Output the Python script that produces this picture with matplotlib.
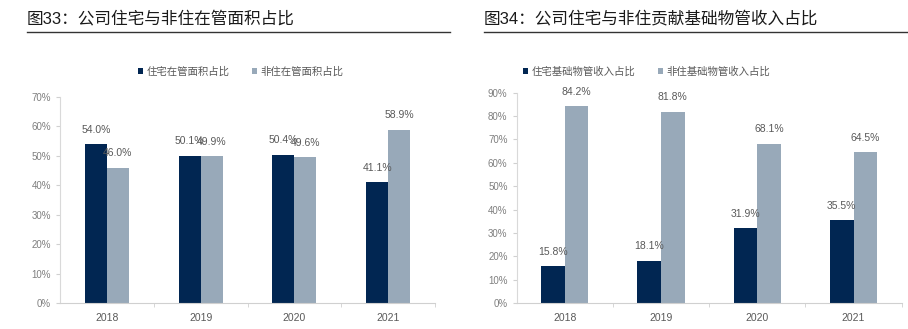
import numpy as np
import matplotlib
matplotlib.use("Agg")
import matplotlib.pyplot as plt
from matplotlib.lines import Line2D
from matplotlib.ticker import FixedLocator, PercentFormatter

plt.rcParams['font.family'] = ['Liberation Sans', 'Noto Sans CJK SC']

# Dane
years = ['2018', '2019', '2020', '2021']

area_res = [54.0, 50.1, 50.4, 41.1]
area_non = [46.0, 49.9, 49.6, 58.9]

income_res = [15.8, 18.1, 31.9, 35.5]
income_non = [84.2, 81.8, 68.1, 64.5]

title_left = '图33：公司住宅与非住在管面积占比'
title_right = '图34：公司住宅与非住贡献基础物管收入占比'
legend_left = ['住宅在管面积占比', '非住在管面积占比']
legend_right = ['住宅基础物管收入占比', '非住基础物管收入占比']

dark = '#012652'
light = '#98a9b9'
grey_txt = '#595959'

fig = plt.figure(figsize=(9.08, 3.29), dpi=100)


def panel(rect, res, non, ymax, labels, bw):
    ax = fig.add_axes(rect)
    x = np.arange(len(years))
    b1 = ax.bar(x - bw / 2, res, bw, color=dark, label=labels[0])
    b2 = ax.bar(x + bw / 2, non, bw, color=light, label=labels[1])
    for bars in (b1, b2):
        for r in bars:
            h = r.get_height()
            ax.text(r.get_x() + r.get_width() / 2, h + ymax * 0.045, f'{h:.1f}%',
                    ha='center', va='bottom', fontsize=7.5, color=grey_txt)
    ax.set_xlim(-0.5, len(years) - 0.5)
    ax.set_ylim(0, ymax)
    ax.set_yticks(np.arange(0, ymax + 1, 10))
    ax.yaxis.set_major_formatter(PercentFormatter(decimals=0))
    ax.set_xticks(x)
    ax.set_xticklabels(years)
    ax.xaxis.set_minor_locator(FixedLocator(np.arange(0.5, len(years), 1)))
    ax.tick_params(axis='x', which='major', length=0, labelsize=7.5, labelcolor=grey_txt, pad=7)
    ax.tick_params(axis='x', which='minor', length=3, color='#d0d0d0')
    ax.tick_params(axis='y', length=3, color='#d0d0d0', labelsize=7, labelcolor='#7f7f7f')
    for s in ('top', 'right'):
        ax.spines[s].set_visible(False)
    ax.spines['left'].set_color('#d9d9d9')
    ax.spines['bottom'].set_color('#d0d0d0')
    return ax


ax1 = panel([0.0661, 0.079, 0.413, 0.626], area_res, area_non, 70, legend_left, 0.235)
ax2 = panel([0.569, 0.079, 0.424, 0.639], income_res, income_non, 90, legend_right, 0.245)

for ax, cx in ((ax1, 0.265), (ax2, 0.712)):
    ax.legend(loc='center', bbox_to_anchor=(cx, 1 - 72 / 329), bbox_transform=fig.transFigure,
              ncol=2, frameon=False, fontsize=7.5, labelcolor=grey_txt,
              handlelength=0.5, handleheight=0.5, handletextpad=0.3, columnspacing=2.2)

# Tytuły i linie pod nimi
fig.text(27 / 908, 1 - 18 / 329, title_left, fontsize=12, va='center', ha='left', color='#1a1a1a')
fig.text(484 / 908, 1 - 18 / 329, title_right, fontsize=12, va='center', ha='left', color='#1a1a1a')
ly = 1 - 32 / 329
fig.add_artist(Line2D([27 / 908, 450 / 908], [ly, ly], color='#333333', lw=1.0))
fig.add_artist(Line2D([484 / 908, 1.0], [ly, ly], color='#333333', lw=1.0))

fig.savefig('out.png', dpi=100)
